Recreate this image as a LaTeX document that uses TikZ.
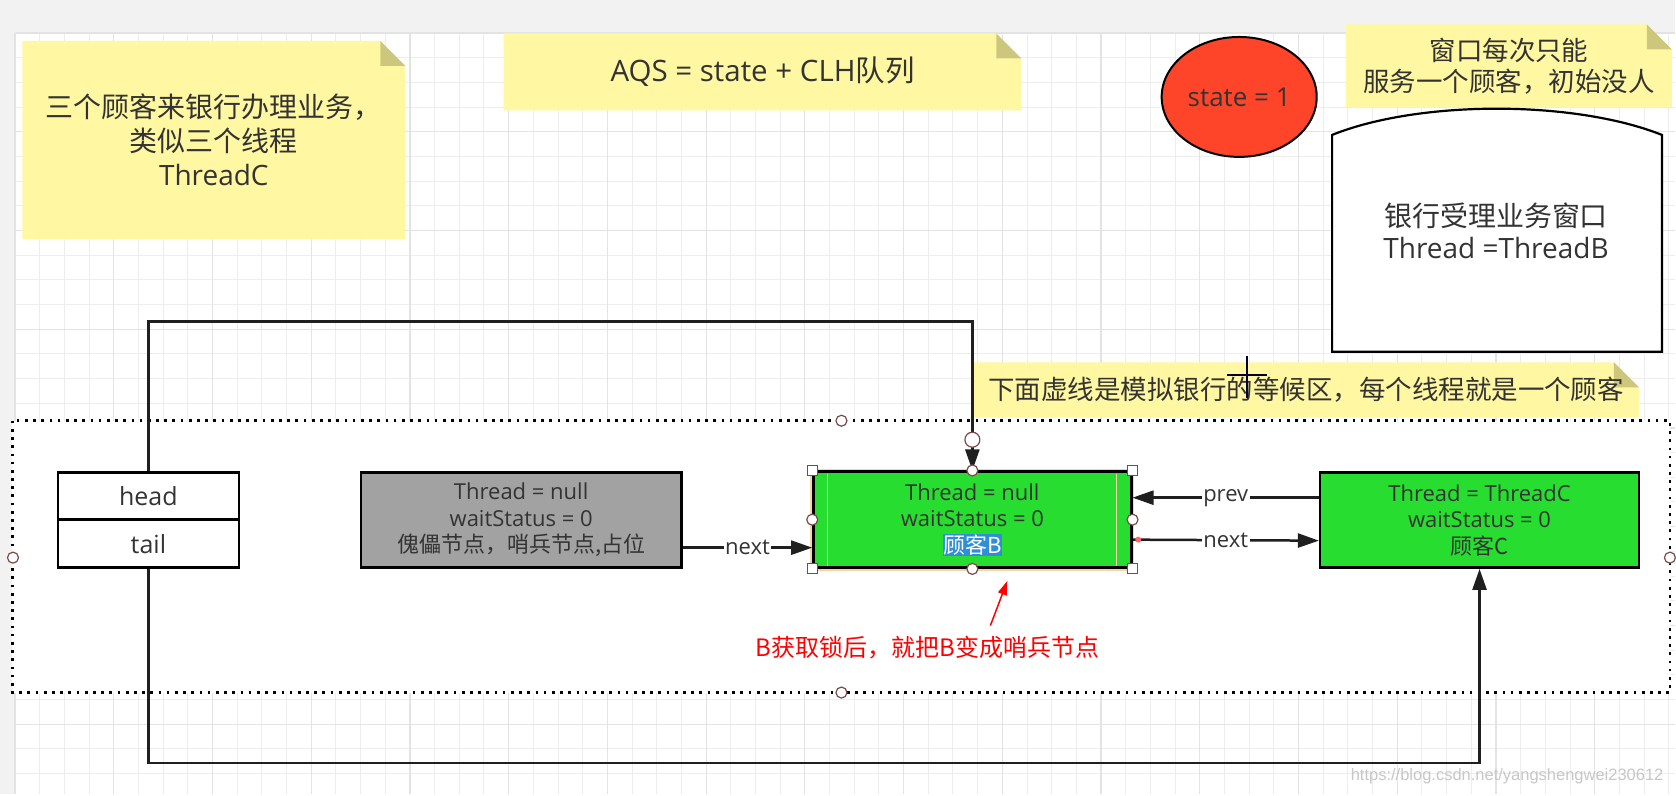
\documentclass[tikz,border=0pt]{standalone}
\usepackage{fontspec}
\setmainfont{Open Sans}
\newfontfamily\cjk{Noto Sans CJK SC}
\newfontfamily\wmfont{Liberation Sans}
\usetikzlibrary{shapes.geometric,arrows.meta}
\definecolor{notey}{HTML}{FFF7A1}
\definecolor{notefold}{HTML}{CDC77D}
\definecolor{txtc}{HTML}{333333}
\definecolor{stred}{HTML}{FF4529}
\definecolor{boxgreen}{HTML}{27DE30}
\definecolor{boxgray}{HTML}{A2A2A2}
\definecolor{selblue}{HTML}{2E8FD8}
\definecolor{gridminor}{HTML}{EDEDED}
\definecolor{gridmajor}{HTML}{E3E3E3}
\definecolor{bandgray}{HTML}{F2F2F2}
\definecolor{handlec}{HTML}{7A4A4A}
\definecolor{selbeige}{HTML}{F2D6A8}
\newcommand\fsNote{\fontsize{26.5}{34}\selectfont}
\newcommand\fsBox{\fontsize{22}{26.5}\selectfont}
\newcommand\fsLbl{\fontsize{22}{25}\selectfont}
\newcommand\fsHead{\fontsize{25}{28}\selectfont}
\begin{document}
\begin{tikzpicture}[x=1pt,y=-1pt,
  note/.style={inner sep=0pt, align=center, text=txtc, font=\fsNote,
    path picture={
      \fill[notey] (path picture bounding box.south west) -- (path picture bounding box.north west)
        -- ([xshift=-25pt]path picture bounding box.north east) -- ([yshift=-25pt]path picture bounding box.north east)
        -- (path picture bounding box.south east) -- cycle;
      \fill[notefold] ([xshift=-25pt]path picture bounding box.north east) -- ([xshift=-25pt,yshift=-25pt]path picture bounding box.north east)
        -- ([yshift=-25pt]path picture bounding box.north east) -- cycle;}},
  qbox/.style={draw=black, line width=2.5pt, inner sep=0pt, align=center, text=txtc, font=\fsBox},
  conn/.style={draw=black!88, line width=2.5pt},
  arr/.style={-{Triangle[length=21pt,width=14pt]}},
  lbl/.style={fill=white, inner sep=1.5pt, font=\fsLbl, text=txtc},
  hsq/.style={draw=handlec, fill=white, line width=1.2pt, minimum size=10pt, inner sep=0pt},
  hcirc/.style={circle, draw=handlec, fill=white, line width=1.2pt, minimum size=11pt, inner sep=0pt},
]
% background
\fill[white] (0,0) rectangle (1676,795);
\fill[bandgray] (0,0) rectangle (1676,33);
\fill[bandgray] (0,0) rectangle (15,795);
\foreach \i in {0,...,67} {\draw[gridminor, line width=1pt] ({15+\i*24.7},33) -- ({15+\i*24.7},795);}
\foreach \j in {0,...,30} {\draw[gridminor, line width=1pt] (15,{33+\j*24.7}) -- (1676,{33+\j*24.7});}
\foreach \i in {0,4,...,67} {\draw[gridmajor, line width=1.2pt] ({15+\i*24.7},33) -- ({15+\i*24.7},795);}
\foreach \j in {0,4,...,30} {\draw[gridmajor, line width=1.2pt] (15,{33+\j*24.7}) -- (1676,{33+\j*24.7});}

% waiting area
\draw[fill=white, line width=2.7pt, dash pattern=on 2.7pt off 5.5pt] (12.5,421) rectangle (1671,693);

% notes
\node[note, minimum width=383pt, minimum height=198pt, font=\fontsize{28}{34}\selectfont] (n1) at (214,140) {{\cjk 三个顾客来银行办理业务，}\\{\cjk 类似三个线程}\\ThreadC};
\node[note, minimum width=518pt, minimum height=77pt, font=\fontsize{29.5}{34}\selectfont] (n2) at (763,72) {AQS = state + CLH{\cjk 队列}};
\node[note, minimum width=326pt, minimum height=83pt, font=\fontsize{26.5}{31.5}\selectfont] (n3) at (1510,66) {{\cjk 窗口每次只能}\\{\cjk 服务一个顾客，初始没人}};
\node[note, minimum width=666pt, minimum height=55pt] (n4) at (1307,390) {{\cjk 下面虚线是模拟银行的等候区，每个线程就是一个顾客}};

% state
\node[ellipse, draw=black, line width=2pt, fill=stred, minimum width=155pt, minimum height=120pt, text=txtc, font=\fontsize{26}{30}\selectfont] (state) at (1240,97) {state = 1};

% window
\draw[line width=2.2pt, fill=white] (1333,352) -- (1333,135) .. controls (1420,100) and (1575,100) .. (1663,135) -- (1663,352) -- cycle;
\node[align=center, text=txtc, font=\fontsize{28}{32.5}\selectfont] (win) at (1497,231) {{\cjk 银行受理业务窗口}\\Thread =ThreadB};

% head / tail
\node[qbox, fill=white, minimum width=181pt, minimum height=47pt, font=\fsHead] (head) at (148.5,496.5) {head};
\node[qbox, fill=white, minimum width=181pt, minimum height=48pt, font=\fsHead] (tail) at (148.5,544) {tail};

% queue nodes
\node[qbox, fill=boxgray, minimum width=321pt, minimum height=95pt] (dummy) at (521.5,520.5) {Thread = null\\waitStatus = 0\\{\cjk 傀儡节点，哨兵节点,占位}};
\draw[selbeige, line width=4pt] (813,471) rectangle (1133,569);
\node[qbox, fill=boxgreen, minimum width=318pt, minimum height=96pt] (B) at (973,520) {Thread = null\\waitStatus = 0\\{\setlength\fboxsep{0.5pt}\colorbox{selblue}{\color{white}\cjk 顾客B}}};
\draw[selbeige, line width=1.5pt] (828,474) -- (828,566) (1117,474) -- (1117,566);
\node[qbox, fill=boxgreen, minimum width=319pt, minimum height=95pt] (C) at (1480.5,520.5) {Thread = ThreadC\\waitStatus = 0\\{\cjk 顾客C}};

% connectors
\draw[conn, arr] (head.north) -- ++(0,-150) -| (B.north);
\draw[conn, arr] (tail.south) -- ++(0,194) -| (C.south);
\draw[conn, arr] ([yshift=-27.5pt]dummy.east) -- node[lbl] {next} ([yshift=-28pt]B.west);
\draw[conn, arr] ([yshift=22.5pt]C.west) -- node[lbl] {prev} ([yshift=22pt]B.east);
\draw[conn, arr] ([yshift=-20pt]B.east) -- node[lbl] {next} ([yshift=-20.5pt]C.west);

% annotation
\node[text=red, font=\cjk\fontsize{24}{28}\selectfont] (note5) at (928,648) {B获取锁后，就把B变成哨兵节点};
\coordinate (redtail) at (991,626);
\draw[red, line width=1.5pt, -{Triangle[length=14pt,width=9pt]}] (redtail) -- ([xshift=35pt,yshift=-12pt]B.south);

% selection handles
\node[hcirc] (c1) at (842,421) {};
\node[hcirc] (c2) at (842,693) {};
\node[hcirc] (c3) at (13,558) {};
\node[hcirc] (c4) at (1671,558) {};
\node[hcirc, minimum size=15pt] (c5) at (973,440) {};
\node[hsq] (s1) at (B.north west) {};
\node[hsq] (s2) at (B.north east) {};
\node[hsq] (s3) at (B.south west) {};
\node[hsq] (s4) at (B.south east) {};
\node[hcirc] (m1) at (B.north) {};
\node[hcirc] (m2) at (B.south) {};
\node[hcirc] (m3) at (B.west) {};
\node[hcirc] (m4) at (B.east) {};
\node[circle, fill=red!60, minimum size=6pt, inner sep=0pt] (rd) at (1139,540) {};

% cursor
\draw[black!80!blue, line width=2.5pt] (1248,356) -- (1248,398) (1228,375) -- (1268,375);

% watermark
\node[text=black!22, font=\wmfont\fontsize{16.5}{18}\selectfont, anchor=east] (wm) at (1668,777) {https://blog.csdn.net/yangshengwei230612};
\end{tikzpicture}
\end{document}
